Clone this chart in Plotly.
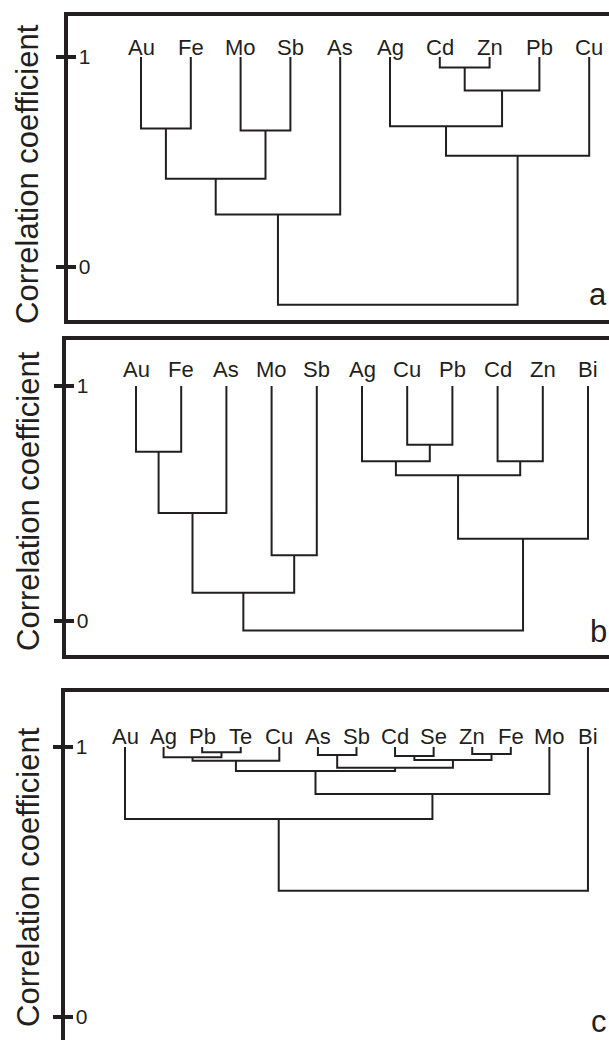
import plotly.graph_objects as go

# ---------------- data ----------------
labels_a = ["Au", "Fe", "Mo", "Sb", "As", "Ag", "Cd", "Zn", "Pb", "Cu"]
# (child1, child2, correlation); ids >= n refer to earlier merges (n, n+1, ...)
links_a = [
    (0, 1, 0.66),    # 10 Au-Fe
    (2, 3, 0.65),    # 11 Mo-Sb
    (10, 11, 0.42),  # 12
    (12, 4, 0.25),   # 13 +As
    (6, 7, 0.95),    # 14 Cd-Zn
    (14, 8, 0.84),   # 15 +Pb
    (5, 15, 0.67),   # 16 Ag+
    (16, 9, 0.53),   # 17 +Cu
    (13, 17, -0.18), # 18 root
]

labels_b = ["Au", "Fe", "As", "Mo", "Sb", "Ag", "Cu", "Pb", "Cd", "Zn", "Bi"]
links_b = [
    (0, 1, 0.72),    # 11 Au-Fe
    (11, 2, 0.46),   # 12 +As
    (3, 4, 0.28),    # 13 Mo-Sb
    (12, 13, 0.12),  # 14
    (6, 7, 0.75),    # 15 Cu-Pb
    (5, 15, 0.68),   # 16 Ag+
    (8, 9, 0.68),    # 17 Cd-Zn
    (16, 17, 0.62),  # 18
    (18, 10, 0.35),  # 19 +Bi
    (14, 19, -0.04), # 20 root
]

labels_c = ["Au", "Ag", "Pb", "Te", "Cu", "As", "Sb", "Cd", "Se", "Zn", "Fe", "Mo", "Bi"]
links_c = [
    (2, 3, 0.981),   # 13 Pb-Te
    (1, 13, 0.962),  # 14 Ag+
    (14, 4, 0.949),  # 15 +Cu
    (5, 6, 0.970),   # 16 As-Sb
    (7, 8, 0.967),   # 17 Cd-Se
    (9, 10, 0.974),  # 18 Zn-Fe
    (17, 18, 0.952), # 19
    (16, 19, 0.923), # 20
    (15, 20, 0.911), # 21
    (21, 11, 0.826), # 22 +Mo
    (0, 22, 0.733),  # 23 Au+
    (23, 12, 0.468), # 24 +Bi root
]

panel_letters = ["a", "b", "c"]
tick_vals = [0, 1]
tick_text = ["0", "1"]
axis_title = "Correlation coefficient"
leaf_level = 1.0

# ---------------- styling / layout ----------------
W, H = 609, 1040
INK = "#231f20"
FONT = "Liberation Sans, Arial, Helvetica, sans-serif"

# pixel layout per panel: domain box and calibration (leaf0 px, leaf spacing px, y px of 0, px per unit)
panels = [
    dict(labels=labels_a, links=links_a, box=(68, 609, 16, 320), x0px=141, dx=49.8, y0px=267, upx=210,
         mirror=True, label_shift=-5, title_y=174, letter_y=294),
    dict(labels=labels_b, links=links_b, box=(66, 609, 339.5, 655), x0px=136, dx=45.2, y0px=621, upx=235,
         mirror=True, label_shift=2, title_y=501, letter_y=631),
    dict(labels=labels_c, links=links_c, box=(65, 609, 692, 1040), x0px=125, dx=38.58, y0px=1017, upx=270,
         mirror=False, label_shift=-4, title_y=877, letter_y=1021),
]


def dendro_xy(n, links, leaf_h):
    pos = {i: (float(i), leaf_h) for i in range(n)}
    xs, ys = [], []
    for k, (a, b, h) in enumerate(links):
        xa, ha = pos[a]
        xb, hb = pos[b]
        xs += [xa, xa, xb, xb, None]
        ys += [ha, h, h, hb, None]
        pos[n + k] = ((xa + xb) / 2.0, h)
    return xs, ys


fig = go.Figure()
annotations = []
shapes = []

for i, p in enumerate(panels, start=1):
    sfx = "" if i == 1 else str(i)
    xl, xr, yt, yb = p["box"]
    n = len(p["labels"])
    xs, ys = dendro_xy(n, p["links"], leaf_level)
    fig.add_trace(go.Scatter(
        x=xs, y=ys, mode="lines", xaxis="x" + sfx, yaxis="y" + sfx,
        line=dict(color=INK, width=2), hoverinfo="skip", showlegend=False,
    ))
    xrange = [(xl - p["x0px"]) / p["dx"], (xr - p["x0px"]) / p["dx"]]
    yrange = [(p["y0px"] - yb) / p["upx"], (p["y0px"] - yt) / p["upx"]]
    xaxis = dict(
        domain=[xl / W, xr / W], range=xrange, anchor="y" + sfx,
        showline=True, linewidth=4, linecolor=INK, showgrid=False, zeroline=False,
        showticklabels=False, ticks="", fixedrange=True,
    )
    if p["mirror"]:
        xaxis["mirror"] = True
    else:
        xaxis["side"] = "top"
    yaxis = dict(
        domain=[1 - yb / H, 1 - yt / H], range=yrange, anchor="x" + sfx,
        showline=True, linewidth=4, linecolor=INK, showgrid=False, zeroline=False,
        ticks="", tickvals=tick_vals, ticktext=tick_text, ticklabelposition="inside",
        ticklabelstandoff=12, tickfont=dict(family=FONT, size=21, color=INK), fixedrange=True,
    )
    fig.update_layout(**{"xaxis" + sfx: xaxis, "yaxis" + sfx: yaxis})

    # crossing tick marks
    for v in tick_vals:
        shapes.append(dict(
            type="line", xref="x" + sfx + " domain", yref="y" + sfx,
            xsizemode="pixel", xanchor=0, x0=-12, x1=8, y0=v, y1=v,
            line=dict(color=INK, width=4),
        ))

    # leaf labels
    for j, lab in enumerate(p["labels"]):
        annotations.append(dict(
            x=j, y=leaf_level, xref="x" + sfx, yref="y" + sfx, text=lab, showarrow=False,
            xanchor="center", yanchor="bottom", yshift=p["label_shift"],
            font=dict(family=FONT, size=22, color=INK),
        ))

    # y-axis title
    annotations.append(dict(
        x=28 / W, y=1 - p["title_y"] / H, xref="paper", yref="paper", text=axis_title,
        textangle=-90, showarrow=False, xanchor="center", yanchor="middle",
        font=dict(family=FONT, size=31, color=INK),
    ))

    # panel letter
    annotations.append(dict(
        x=1, y=1 - p["letter_y"] / H, xref="paper", yref="paper", text=panel_letters[i - 1],
        showarrow=False, xanchor="right", yanchor="middle",
        font=dict(family=FONT, size=31, color=INK),
    ))

fig.update_layout(
    width=W, height=H, margin=dict(l=0, r=0, t=0, b=0),
    paper_bgcolor="white", plot_bgcolor="white",
    annotations=annotations, shapes=shapes, showlegend=False,
)

fig.write_html("out.html")
